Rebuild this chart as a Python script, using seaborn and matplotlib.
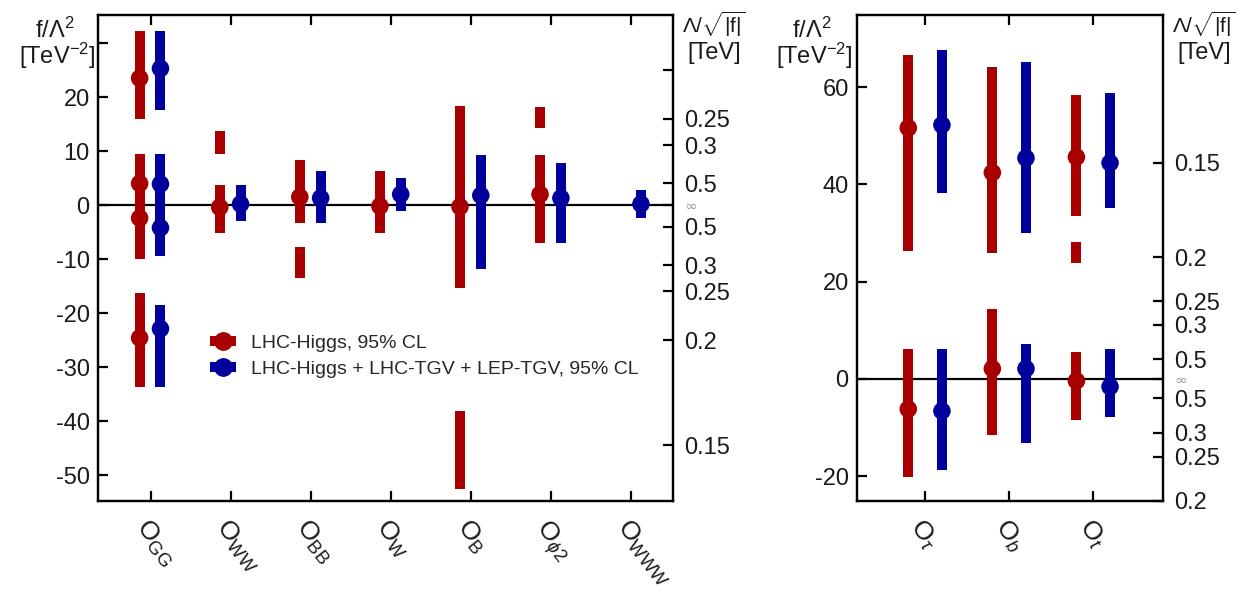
import matplotlib
matplotlib.use("Agg")
import matplotlib.pyplot as plt
import numpy as np
import pandas as pd
import seaborn as sns
from matplotlib.lines import Line2D

# ---------------- data ----------------
# Left panel: bosonic operators
left_ops = [r"$\mathrm{O}_{\mathrm{GG}}$", r"$\mathrm{O}_{\mathrm{WW}}$", r"$\mathrm{O}_{\mathrm{BB}}$",
            r"$\mathrm{O}_{\mathrm{W}}$", r"$\mathrm{O}_{\mathrm{B}}$", r"$\mathrm{O}_{\phi 2}$",
            r"$\mathrm{O}_{\mathrm{WWW}}$"]

# LHC-Higgs 95% CL allowed intervals (operator index, low, high) and best-fit points
higgs_int_op = [0, 0, 0, 1, 1, 2, 2, 3, 4, 4, 5, 5]
higgs_int_lo = [16.0, -9.9, -33.6, 9.4, -5.1, -3.3, -13.5, -5.1, -15.4, -52.6, 14.2, -7.1]
higgs_int_hi = [32.2, 9.5, -16.2, 13.8, 3.7, 8.3, -7.8, 6.4, 18.3, -38.1, 18.2, 9.3]
higgs_bf_op = [0, 0, 0, 0, 1, 2, 3, 4, 5]
higgs_bf = [23.5, 4.0, -2.4, -24.6, -0.4, 1.5, -0.2, -0.3, 2.0]

# LHC-Higgs + LHC-TGV + LEP-TGV 95% CL
comb_int_op = [0, 0, 0, 1, 2, 3, 4, 5, 6]
comb_int_lo = [17.6, -9.5, -33.6, -2.9, -3.3, -1.1, -11.8, -7.1, -2.4]
comb_int_hi = [32.2, 9.5, -18.5, 3.7, 6.4, 5.1, 9.3, 7.8, 2.7]
comb_bf_op = [0, 0, 0, 0, 1, 2, 3, 4, 5, 6]
comb_bf = [25.3, 3.9, -4.2, -22.9, 0.2, 1.3, 2.0, 1.8, 1.3, 0.2]

# Right panel: Yukawa-like operators
right_ops = [r"$\mathrm{O}_{\tau}$", r"$\mathrm{O}_{b}$", r"$\mathrm{O}_{t}$"]

yuk_higgs_int_op = [0, 0, 1, 1, 2, 2, 2]
yuk_higgs_int_lo = [26.3, -20.1, 25.9, -11.5, 33.5, 23.8, -8.4]
yuk_higgs_int_hi = [66.6, 6.2, 64.2, 14.4, 58.4, 28.2, 5.5]
yuk_higgs_bf_op = [0, 0, 1, 1, 2, 2]
yuk_higgs_bf = [51.6, -6.2, 42.4, 2.1, 45.6, -0.4]

yuk_comb_int_op = [0, 0, 1, 1, 2, 2]
yuk_comb_int_lo = [38.2, -18.7, 30.0, -13.1, 35.1, -7.8]
yuk_comb_int_hi = [67.6, 6.2, 65.2, 7.2, 58.8, 6.2]
yuk_comb_bf_op = [0, 0, 1, 1, 2, 2]
yuk_comb_bf = [52.2, -6.6, 45.4, 2.1, 44.4, -1.6]

# Scale Lambda/sqrt|f| [TeV] shown on the secondary axes
left_scale = [0.2, 0.25, 0.3, 0.5, np.inf, -0.5, -0.3, -0.25, -0.2, -0.15]
left_scale_labels = ["", "0.25", "0.3", "0.5", "∞", "0.5", "0.3", "0.25", "0.2", "0.15"]
right_scale = [0.15, 0.2, 0.25, 0.3, 0.5, np.inf, -0.5, -0.3, -0.25, -0.2]
right_scale_labels = ["0.15", "0.2", "0.25", "0.3", "0.5", "∞", "0.5", "0.3", "0.25", "0.2"]

left_yticks = [-50, -40, -30, -20, -10, 0, 10, 20, 30]
left_yticklabels = ["-50", "-40", "-30", "-20", "-10", "0", "10", "20", ""]
right_yticks = [-20, 0, 20, 40, 60]

RED = "#a80000"
BLUE = "#00009c"
INK = "#1a1a1a"

# ---------------- style ----------------
sns.set_theme(style="ticks")
plt.rcParams.update({
    "font.family": ["Liberation Sans", "DejaVu Sans"],
    "mathtext.fontset": "custom",
    "mathtext.rm": "Liberation Sans",
    "mathtext.it": "Liberation Sans:italic",
    "mathtext.bf": "Liberation Sans:bold",
    "mathtext.sf": "Liberation Sans",
    "axes.linewidth": 1.6,
    "axes.edgecolor": "black",
    "xtick.direction": "in",
    "ytick.direction": "in",
    "xtick.major.size": 7,
    "ytick.major.size": 7,
    "xtick.major.width": 1.6,
    "ytick.major.width": 1.6,
    "xtick.color": "black",
    "ytick.color": "black",
    "xtick.labelcolor": INK,
    "ytick.labelcolor": INK,
})

fig = plt.figure(figsize=(12.37, 5.89), dpi=100)
axL = fig.add_axes([98 / 1237, 1 - 501 / 589, 575 / 1237, 486 / 589])
axR = fig.add_axes([857 / 1237, 1 - 501 / 589, 306 / 1237, 486 / 589])

BAR_LW = 7.2
DOT_S = 160
TICK_FS = 17


def draw_series(ax, int_op, lo, hi, bf_op, bf, offset, color):
    x_int = np.asarray(int_op, float) + 1 + offset
    ax.vlines(x_int, lo, hi, color=color, lw=BAR_LW, capstyle="butt", zorder=3)
    df = pd.DataFrame({"x": np.asarray(bf_op, float) + 1 + offset, "y": bf})
    sns.scatterplot(data=df, x="x", y="y", ax=ax, color=color, s=DOT_S,
                    edgecolor="none", linewidth=0, zorder=4, legend=False)


def finish(ax, ops, xlim, ylim, yticks, yticklabels, scale, scale_labels, rot_fs):
    ax.axhline(0, color="black", lw=1.6, zorder=2)
    ax.set_xlim(*xlim)
    ax.set_ylim(*ylim)
    ax.set_xticks(np.arange(1, len(ops) + 1))
    ax.set_xticklabels(ops, rotation=-52, ha="left", va="top", rotation_mode="anchor",
                       fontsize=rot_fs)
    ax.set_yticks(yticks)
    ax.set_yticklabels(yticklabels, fontsize=TICK_FS)
    ax.set_xlabel("")
    ax.set_ylabel("")
    ax.tick_params(axis="x", top=True, bottom=True, pad=10)
    ax.tick_params(axis="y", left=True, right=False, pad=6)
    for s in ax.spines.values():
        s.set_visible(True)
    tw = ax.twinx()
    tw.set_ylim(*ylim)
    pos = [0.0 if np.isinf(v) else np.sign(v) / v ** 2 for v in scale]
    tw.set_yticks(pos)
    tw.set_yticklabels(scale_labels, fontsize=TICK_FS)
    tw.tick_params(axis="y", right=True, direction="in", pad=8)
    for lab, txt in zip(tw.get_yticklabels(), scale_labels):
        if txt == "∞":
            lab.set_fontsize(11)
            lab.set_color("#9a9a9a")
            lab.set_family(["DejaVu Sans"])
    for s in tw.spines.values():
        s.set_visible(True)
    return tw


# left panel
draw_series(axL, higgs_int_op, higgs_int_lo, higgs_int_hi, higgs_bf_op, higgs_bf, -0.14, RED)
draw_series(axL, comb_int_op, comb_int_lo, comb_int_hi, comb_bf_op, comb_bf, 0.12, BLUE)
finish(axL, left_ops, (0.34, 7.52), (-54.8, 35.2), left_yticks, left_yticklabels,
       left_scale, left_scale_labels, 19)

# right panel
draw_series(axR, yuk_higgs_int_op, yuk_higgs_int_lo, yuk_higgs_int_hi, yuk_higgs_bf_op, yuk_higgs_bf, -0.2, RED)
draw_series(axR, yuk_comb_int_op, yuk_comb_int_lo, yuk_comb_int_hi, yuk_comb_bf_op, yuk_comb_bf, 0.2, BLUE)
finish(axR, right_ops, (0.19, 3.83), (-25.1, 74.8), right_yticks, [str(t) for t in right_yticks],
       right_scale, right_scale_labels, 19)

# legend
handles = [Line2D([], [], color=RED, lw=BAR_LW, marker="o", markersize=12.5, solid_capstyle="butt"),
           Line2D([], [], color=BLUE, lw=BAR_LW, marker="o", markersize=12.5, solid_capstyle="butt")]
axL.legend(handles, ["LHC-Higgs, 95% CL", "LHC-Higgs + LHC-TGV + LEP-TGV, 95% CL"],
           loc="center left", bbox_to_anchor=((210 - 98) / 575, (501 - 356) / 486),
           frameon=False, fontsize=14, handlelength=1.35, handletextpad=0.75,
           labelspacing=0.45, borderpad=0, borderaxespad=0)

# axis titles
lab_fs = 17
for x_right, x_mid in [(95 / 1237, 55 / 1237), (852 / 1237, 812 / 1237)]:
    fig.text(x_mid, 1 - 30 / 589, r"f/$\Lambda^2$", ha="center", va="center", fontsize=lab_fs, color=INK)
    fig.text(x_right, 1 - 56 / 589, r"[TeV$^{-2}$]", ha="right", va="center", fontsize=lab_fs, color=INK)
for x_mid in [714 / 1237, 1204 / 1237]:
    fig.text(x_mid, 1 - 24 / 589, r"$\Lambda/\sqrt{|\mathrm{f}|}$", ha="center", va="center",
             fontsize=lab_fs - 2, color=INK)
    fig.text(x_mid, 1 - 53 / 589, "[TeV]", ha="center", va="center", fontsize=lab_fs, color=INK)

fig.savefig("out.png", dpi=100)
